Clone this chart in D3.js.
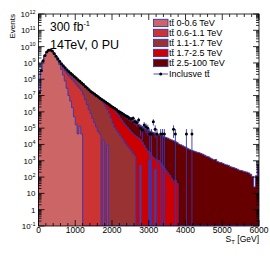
<!DOCTYPE html>
<html>
<head>
<meta charset="utf-8">
<script src="https://cdn.jsdelivr.net/npm/d3@7"></script>
<style>
body { margin: 0; background: #fff; }
text { font-family: "Liberation Sans", Arial, sans-serif; fill: #000; }
</style>
</head>
<body>
<svg id="chart" width="270" height="259"></svg>
<script>
// S_T histogram, 50 GeV bins from 0 to 6000, events per bin (300 fb-1)
var binWidth = 50;
var stMax = 6000;

// stacked samples, ttbar split in m(tt) ranges; missing trailing bins are empty
var mtt0to06 = [
  1.6e7, 3.2e8, 1.3e9, 2.8e9, 4.5e9, 5.9e9, 6.0e9, 5.0e9, 3.5e9, 2.3e9,
  1.4e9, 7.9e8, 4.0e8, 1.8e8, 7.9e7, 2.8e7, 1.0e7, 4.5e6, 1.8e6, 5.0e5,
  1.6e5, 4.4e4, 1.3e5, 4.4e4
];
var mtt06to11 = [
  0, 2e5, 2e6, 8e6, 2.5e7, 5e7, 8e7, 1.2e8, 1.5e8, 1.7e8,
  1.8e8, 2.1e8, 3.1e8, 3.2e8, 2.4e8, 2.0e8, 1.56e8, 1.19e8, 9.1e7, 7.0e7,
  5.0e7, 3.7e7, 2.75e7, 2.0e7, 1.1e7, 5.6e6, 2.8e6, 1.4e6, 7.9e5, 4.0e5,
  2.2e5, 1.2e5, 6.3e4, 4.4e4, 0, 1.8e4, 0, 9e3
];
var mtt11to17 = [
  0, 0, 1e5, 5e5, 1.5e6, 3e6, 5e6, 7e6, 9e6, 1.1e7,
  4e7, 6e7, 8e7, 1.0e8, 1.0e8, 1.0e8, 9e7, 8e7, 7e7, 6e7,
  5e7, 4.4e7, 3.8e7, 3.3e7, 3.1e7, 2.6e7, 2.2e7, 1.86e7, 1.5e7, 1.25e7,
  1.03e7, 8.4e6, 7.1e6, 5.9e6, 4.6e6, 3.2e6, 2.1e6, 1.4e6, 7.9e5, 4.0e5,
  2.0e5, 1.1e5, 7.6e4, 5.2e4, 3.5e4, 2.5e4, 1.7e4, 1.1e4, 7.9e3, 5.6e3,
  4.0e3, 2.8e3, 2.0e3, 0, 0, 5.5e2, 0, 0, 0, 0,
  1.1e3, 0, 0, 3e2
];
var mtt17to25 = [
  0, 0, 0, 1e5, 3e5, 6e5, 1e6, 1.5e6, 2e6, 2.5e6,
  3e6, 3.5e6, 4e6, 4.5e6, 5e6, 5.5e6, 6e6, 6e6, 6e6, 6e6,
  6e6, 5.5e6, 5e6, 4.5e6, 2.5e6, 2.5e6, 2.4e6, 2.2e6, 1.9e6, 1.7e6,
  1.6e6, 1.5e6, 1.0e6, 8.5e5, 1.0e6, 1.45e6, 1.85e6, 1.95e6, 2.0e6, 1.9e6,
  1.58e6, 1.21e6, 8.1e5, 5.5e5, 3.8e5, 2.7e5, 1.9e5, 1.37e5, 9.9e4, 7.4e4,
  5.5e4, 4.2e4, 3.3e4, 3.0e4, 2.5e4, 1.95e4, 1.4e4, 8.9e3, 5.6e3, 4.0e3,
  2.1e3, 2.0e3, 1.6e3, 9.6e2, 1.1e3, 1.0e3, 7.1e2, 5.0e2, 3.5e2, 2.5e2,
  1.8e2, 126, 79, 56, 63, 40
];
var mtt25to100 = [
  0, 0, 0, 0, 1e4, 3e4, 5e4, 8e4, 1e5, 1.2e5,
  1.4e5, 1.6e5, 1.8e5, 2e5, 2.1e5, 2.2e5, 2.3e5, 2.4e5, 2.4e5, 2.4e5,
  2.4e5, 2.4e5, 2.3e5, 2.3e5, 2.2e5, 2.2e5, 2.1e5, 2.1e5, 2.0e5, 2.0e5,
  1.9e5, 1.9e5, 1.9e5, 1.9e5, 2.0e5, 2.2e5, 2.4e5, 2.6e5, 2.8e5, 3.0e5,
  3.2e5, 4.6e5, 5.9e5, 6.6e5, 6.3e5, 6.0e5, 5.3e5, 4.8e5, 4.1e5, 3.6e5,
  3.0e5, 2.55e5, 2.15e5, 1.8e5, 1.5e5, 1.28e5, 1.12e5, 9.6e4, 8.3e4, 7.2e4,
  6.3e4, 5.8e4, 5.2e4, 4.7e4, 4.2e4, 3.8e4, 3.5e4, 3.2e4, 2.9e4, 2.65e4,
  2.4e4, 2.1e4, 1.9e4, 1.7e4, 1.5e4, 1.3e4, 1.05e4, 9.5e3, 8.3e3, 7.2e3,
  6.3e3, 5.5e3, 4.8e3, 4.3e3, 4.0e3, 3.6e3, 3.3e3, 3.1e3, 2.8e3, 2.5e3,
  2.2e3, 1.9e3, 1.75e3, 1.5e3, 1.3e3, 1.15e3, 1.2e3, 900, 800, 760,
  680, 600, 560, 520, 430, 400, 370, 330, 300, 260,
  250, 230, 210, 200, 180, 150, 110, 25, 120, 600
];

// inclusive ttbar sample (markers)
var inclusive = [
  1.5e7, 3.3e8, 1.35e9, 2.9e9, 4.6e9, 5.9e9, 6.2e9, 5.3e9, 3.8e9, 2.6e9,
  1.8e9, 1.26e9, 8.9e8, 6.8e8, 5.0e8, 3.8e8, 2.95e8, 2.35e8, 1.86e8, 1.48e8,
  1.17e8, 9.3e7, 7.4e7, 5.9e7, 4.7e7, 3.6e7, 2.9e7, 2.3e7, 1.8e7, 1.48e7,
  1.23e7, 1.02e7, 8.3e6, 6.9e6, 5.8e6, 4.8e6, 4.0e6, 3.3e6, 2.7e6, 2.2e6,
  1.9e6, 1.6e6, 1.35e6, 1.05e6, 9.5e5, 8.0e5, 6.6e5, 5.5e5, 5.0e5, 4.0e5,
  3.6e5, 4.0e5, 2.6e5, 2.2e5, 3.2e5, 9.8e4, 7.6e4, 1.55e5, 1.23e5, 9.8e4,
  4.4e4, 4.4e4, 2.5e5, 8.7e4, 4.4e4, 0, 4.4e4, 4.4e4, 4.4e4, 0,
  0, 0, 0, 8.7e4, 4.4e4, 0, 0, 0, 0, 0,
  4.4e4, 0, 0, 4.4e4
];
var eventWeight = 4.4e4;

var stackSeries = [mtt0to06, mtt06to11, mtt11to17, mtt17to25, mtt25to100];
var legendLabels = ["t\u0074\u0304 0-0.6 TeV", "t\u0074\u0304 0.6-1.1 TeV", "t\u0074\u0304 1.1-1.7 TeV",
                    "t\u0074\u0304 1.7-2.5 TeV", "t\u0074\u0304 2.5-100 TeV"];
var fillColors = ["#cc6666", "#cc3333", "#993333", "#cc0000", "#660000"];
var lineBlue = "#3535b8";

var xTicks = [0, 1000, 2000, 3000, 4000, 5000, 6000];
var yDecades = d3.range(-1, 13);

var svg = d3.select("#chart");
var padL = 38.5, padR = 259, padT = 14, padB = 226;
var yMin = 0.1, yMax = 1e12;

var x = d3.scaleLinear().domain([0, stMax]).range([padL, padR]);
var y = d3.scaleLog().domain([yMin, yMax]).range([padB, padT]);

var nBins = stMax / binWidth;

// cumulative stack
var cum = [];
stackSeries.forEach(function (s, k) {
  var c = [];
  for (var i = 0; i < nBins; i++) {
    c.push((s[i] || 0) + (k > 0 ? cum[k - 1][i] : 0));
  }
  cum.push(c);
});

function stepPoints(vals) {
  var pts = [[0, yMin]];
  vals.forEach(function (v, i) {
    pts.push([i * binWidth, v]);
    pts.push([(i + 1) * binWidth, v]);
  });
  pts.push([stMax, yMin]);
  return pts;
}

svg.append("clipPath").attr("id", "plotclip")
  .append("rect").attr("x", padL).attr("y", padT)
  .attr("width", padR - padL).attr("height", padB - padT);

var plot = svg.append("g").attr("clip-path", "url(#plotclip)");

var area = d3.area()
  .x(function (d) { return x(d[0]); })
  .y0(y(yMin))
  .y1(function (d) { return y(Math.max(d[1], yMin)); });
var line = d3.line()
  .x(function (d) { return x(d[0]); })
  .y(function (d) { return y(Math.max(d[1], yMin)); });

for (var k = cum.length - 1; k >= 0; k--) {
  var pts = stepPoints(cum[k]);
  plot.append("path").attr("d", area(pts)).attr("fill", fillColors[k]);
  plot.append("path").attr("d", line(pts)).attr("fill", "none")
    .attr("stroke", lineBlue).attr("stroke-width", 0.9);
}

// inclusive markers with error bars
var incl = inclusive.map(function (v, i) { return { st: (i + 0.5) * binWidth, v: v }; })
  .filter(function (d) { return d.v > 0; });

plot.selectAll("line.err").data(incl).enter().append("line")
  .attr("x1", function (d) { return x(d.st); })
  .attr("x2", function (d) { return x(d.st); })
  .attr("y1", function (d) {
    var e = Math.sqrt(d.v * eventWeight);
    return y(Math.max(d.v - e, yMin));
  })
  .attr("y2", function (d) {
    var e = Math.sqrt(d.v * eventWeight);
    return y(d.v + e);
  })
  .attr("stroke", lineBlue).attr("stroke-width", 0.9);

plot.selectAll("circle.pt").data(incl).enter().append("circle")
  .attr("cx", function (d) { return x(d.st); })
  .attr("cy", function (d) { return y(d.v); })
  .attr("r", 1.5).attr("fill", "#000");

// frame and ticks (inside, on all four sides)
var axes = svg.append("g").attr("stroke", "#000").attr("stroke-width", 0.8);
axes.append("rect").attr("x", padL).attr("y", padT)
  .attr("width", padR - padL).attr("height", padB - padT).attr("fill", "none");

var xMinor = d3.range(0, stMax + 1, 200);
xMinor.forEach(function (v) {
  var major = v % 1000 === 0;
  var len = major ? 6 : 3;
  axes.append("line").attr("x1", x(v)).attr("x2", x(v)).attr("y1", padB).attr("y2", padB - len);
  axes.append("line").attr("x1", x(v)).attr("x2", x(v)).attr("y1", padT).attr("y2", padT + len);
});

yDecades.forEach(function (p) {
  var base = Math.pow(10, p);
  [1, 2, 3, 4, 5, 6, 7, 8, 9].forEach(function (m) {
    var v = m * base;
    if (v > yMax) return;
    var len = m === 1 ? 6 : 3;
    var yy = y(v);
    axes.append("line").attr("x1", padL).attr("x2", padL + len).attr("y1", yy).attr("y2", yy);
    axes.append("line").attr("x1", padR).attr("x2", padR - len).attr("y1", yy).attr("y2", yy);
  });
});

// tick labels
svg.selectAll("text.xt").data(xTicks).enter().append("text")
  .attr("x", function (d) { return x(d); })
  .attr("y", 233)
  .attr("text-anchor", "middle")
  .attr("font-size", 8.5)
  .text(function (d) { return d; });

yDecades.forEach(function (p) {
  var t = svg.append("text").attr("x", 35.5).attr("y", y(Math.pow(10, p)) + 3)
    .attr("text-anchor", "end").attr("font-size", 8);
  if (p === 0) { t.text("1"); return; }
  if (p === 1) { t.text("10"); return; }
  t.append("tspan").text("10");
  t.append("tspan").attr("font-size", 5.5).attr("dy", -3.5).text(p);
});

// axis titles
svg.append("text").attr("x", 259).attr("y", 242).attr("text-anchor", "end").attr("font-size", 8.5)
  .call(function (t) {
    t.append("tspan").text("S");
    t.append("tspan").attr("font-size", 6).attr("dy", 2).text("T");
    t.append("tspan").attr("dy", -2).text(" [GeV]");
  });

svg.append("text").attr("transform", "translate(15," + 14 + ") rotate(-90)")
  .attr("text-anchor", "end").attr("font-size", 8).text("Events");

// annotations
svg.append("text").attr("x", 50).attr("y", 31).attr("font-size", 12)
  .call(function (t) {
    t.append("tspan").text("300 fb");
    t.append("tspan").attr("font-size", 7.5).attr("dy", -5).text("-1");
  });
svg.append("text").attr("x", 50).attr("y", 48.5).attr("font-size", 12.5).text("14TeV, 0 PU");

// legend
var leg = svg.append("g");
legendLabels.forEach(function (lab, i) {
  var yy = 19.3 + 10 * i;
  leg.append("rect").attr("x", 153.5).attr("y", yy).attr("width", 14.5).attr("height", 7.3)
    .attr("fill", fillColors[i]).attr("stroke", lineBlue).attr("stroke-width", 0.9);
  leg.append("text").attr("x", 169).attr("y", yy + 7).attr("font-size", 9).text(lab);
});
leg.append("line").attr("x1", 153.5).attr("x2", 168).attr("y1", 74).attr("y2", 74)
  .attr("stroke", lineBlue).attr("stroke-width", 0.9);
leg.append("circle").attr("cx", 160.7).attr("cy", 74).attr("r", 1.5).attr("fill", "#000");
leg.append("text").attr("x", 169).attr("y", 77).attr("font-size", 9).text("Inclusve t\u0074\u0304");
</script>
</body>
</html>
